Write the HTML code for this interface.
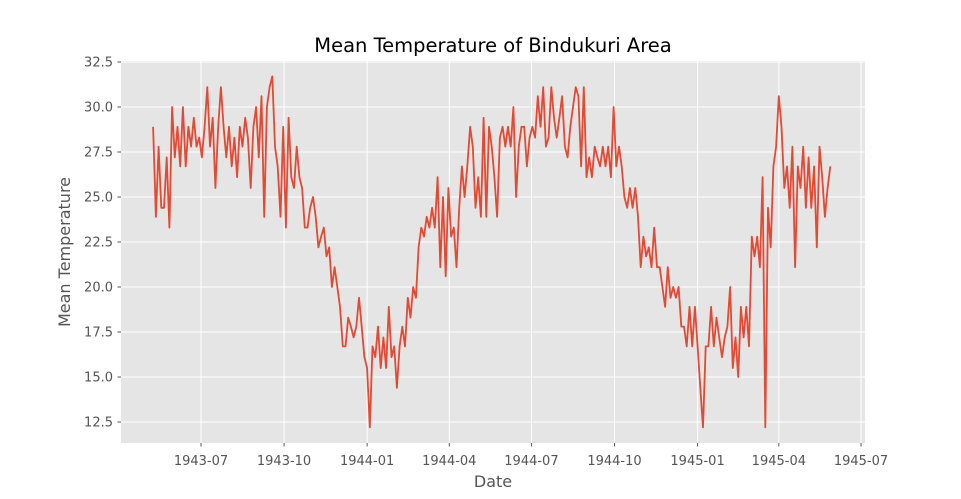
<!DOCTYPE html>
<html><head><meta charset="utf-8"><style>
body{margin:0;background:#fff;}
svg{display:block;font-family:"DejaVu Sans","Liberation Sans",sans-serif;}
</style></head><body>
<svg id="chart" width="961" height="499" viewBox="0 0 961 499">
<rect x="0" y="0" width="961" height="499" fill="#fff"/>
<rect x="121" y="61" width="744" height="382" fill="#e5e5e5"/>
<g id="grid"></g>
<g id="ticks"></g>
<g id="series"></g>
<text x="493" y="52" font-size="19.5" text-anchor="middle" fill="#000">Mean Temperature of Bindukuri Area</text>
<text x="493" y="487" font-size="16" text-anchor="middle" fill="#555">Date</text>
<text x="70" y="252" font-size="16" text-anchor="middle" fill="#555" transform="rotate(-90 70 252)">Mean Temperature</text>
</svg>
<script>
const startDate = "1943-05-09";
const stepDays = 3;
const temps = [28.9,23.9,27.8,24.4,24.4,27.2,23.3,30.0,27.2,28.9,26.7,30.0,26.7,28.9,27.8,29.4,27.8,28.3,27.2,28.9,
31.1,27.8,29.4,25.5,28.9,31.1,28.9,27.2,28.9,26.7,28.3,26.1,28.9,27.8,29.4,28.3,25.5,28.9,30.0,27.2,
30.6,23.9,30.0,31.1,31.7,27.8,26.7,23.9,28.9,23.3,29.4,26.1,25.5,27.8,26.1,25.5,23.3,23.3,24.4,25.0,
23.9,22.2,22.8,23.3,21.7,22.2,20.0,21.1,20.0,18.9,16.7,16.7,18.3,17.8,17.2,17.8,19.4,17.8,16.1,15.5,
12.2,16.7,16.1,17.8,15.5,17.2,15.5,18.9,16.1,16.7,14.4,16.7,17.8,16.7,19.4,18.3,20.0,19.4,22.2,23.3,
22.8,23.9,23.3,24.4,23.3,26.1,21.1,25.0,20.6,25.5,22.8,23.3,21.1,24.4,26.7,25.0,26.7,28.9,27.8,24.4,
26.1,23.9,29.4,23.9,28.9,27.8,26.1,23.9,28.3,28.9,27.8,28.9,27.8,30.0,25.0,27.8,28.9,28.9,26.7,28.3,
28.9,28.3,30.6,28.9,31.1,27.8,28.3,31.1,29.4,28.3,29.4,30.6,27.8,27.2,28.9,30.0,31.1,30.6,26.7,31.1,
26.1,27.2,26.1,27.8,27.2,26.7,27.8,26.7,27.8,26.1,30.0,26.7,27.8,26.7,25.0,24.4,25.5,24.4,25.5,23.9,
21.1,22.8,21.7,22.2,21.1,23.3,21.1,21.1,20.0,18.9,21.1,19.4,20.0,19.4,20.0,17.8,17.8,16.7,18.9,16.7,
18.9,16.7,14.4,12.2,16.7,16.7,18.9,16.7,18.3,17.2,16.1,17.2,17.8,20.0,15.5,17.2,15.0,18.9,17.2,18.9,
16.7,22.8,21.7,22.8,21.1,26.1,12.2,24.4,22.2,26.7,27.8,30.6,28.9,25.5,26.7,24.4,27.8,21.1,26.7,25.5,
27.8,24.4,27.2,24.4,26.7,22.2,27.8,26.1,23.9,25.5,26.7];
const yTicks = [12.5,15.0,17.5,20.0,22.5,25.0,27.5,30.0,32.5];
const xTicks = ["1943-07","1943-10","1944-01","1944-04","1944-07","1944-10","1945-01","1945-04","1945-07"];

const NS="http://www.w3.org/2000/svg";
const refDay = Date.UTC(1943,6,1)/86400000;
function dayNum(s){const p=s.split("-").map(Number);return Date.UTC(p[0],p[1]-1,p[2]||1)/86400000;}
function xScale(d){return 201 + (d-refDay)*(660/731);}
function yScale(v){return 62 + (32.5-v)*18;}
function mk(tag,attrs,parent){const e=document.createElementNS(NS,tag);for(const k in attrs)e.setAttribute(k,attrs[k]);parent.appendChild(e);return e;}
const grid=document.getElementById("grid"), ticks=document.getElementById("ticks"), series=document.getElementById("series");

yTicks.forEach(v=>{
  const y=yScale(v);
  const g=mk("line",{x1:121,x2:865,y1:y,y2:y,stroke:"#fff","stroke-width":1},grid);
  
  
  const t=mk("line",{x1:117.5,x2:121,y1:y,y2:y,stroke:"#555","stroke-width":1},ticks);
  
  
  const l=mk("text",{x:113,y:y+4.5,"font-size":13,"text-anchor":"end",fill:"#555"},ticks);
  l.textContent=v.toFixed(1);
  
  
});
xTicks.forEach(s=>{
  const x=xScale(dayNum(s));
  const g=mk("line",{x1:x,x2:x,y1:61,y2:443,stroke:"#fff","stroke-width":1},grid);
  
  
  const t=mk("line",{x1:x,x2:x,y1:443,y2:446.5,stroke:"#555","stroke-width":1},ticks);
  
  
  const l=mk("text",{x:x,y:465,"font-size":13,"text-anchor":"middle",fill:"#555"},ticks);
  l.textContent=s;
  
  
});
const s0=dayNum(startDate);
const pts=temps.map((v,i)=>xScale(s0+i*stepDays).toFixed(1)+","+yScale(v).toFixed(1)).join(" ");
const line=mk("polyline",{points:pts,fill:"none",stroke:"#E24A33","stroke-width":1.8,"stroke-linejoin":"round"},series);


</script>
</body></html>
